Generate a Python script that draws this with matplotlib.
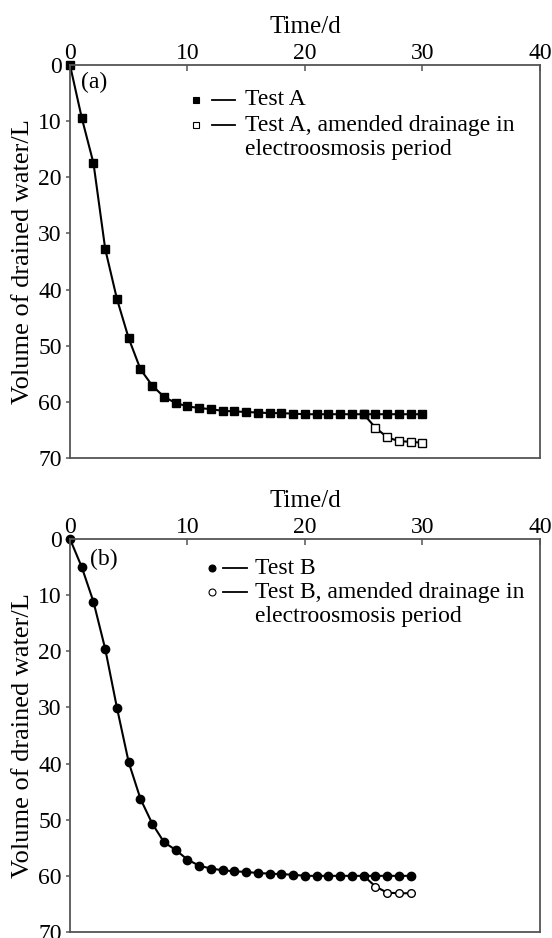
import matplotlib
matplotlib.use("Agg")
import matplotlib.pyplot as plt

plt.rcParams['font.family'] = ['Liberation Serif', 'DejaVu Serif']

# test A, volume of drained water (L) per day
days_a = list(range(0, 31))
vol_a = [0, 9.4, 17.5, 32.8, 41.7, 48.7, 54.2, 57.1, 59.1, 60.2, 60.8, 61.1, 61.3, 61.6, 61.7,
         61.8, 61.9, 62.0, 62.0, 62.1, 62.2, 62.2, 62.2, 62.2, 62.2, 62.2, 62.2, 62.2, 62.2, 62.2, 62.2]
days_a_amend = [25, 26, 27, 28, 29, 30]
vol_a_amend = [62.2, 64.6, 66.3, 67.0, 67.1, 67.3]

# test B
days_b = list(range(0, 30))
vol_b = [0, 5.0, 11.2, 19.6, 30.1, 39.8, 46.3, 50.7, 54.0, 55.4, 57.1, 58.2, 58.7, 59.0, 59.2,
         59.3, 59.5, 59.6, 59.7, 59.8, 60.0, 60.0, 60.0, 60.0, 60.0, 60.0, 60.0, 60.0, 60.0, 60.0]
days_b_amend = [25, 26, 27, 28, 29]
vol_b_amend = [60.0, 61.9, 63.0, 63.1, 63.1]

xticks = [0, 10, 20, 30, 40]
yticks = [0, 10, 20, 30, 40, 50, 60, 70]

fs = 17
spine_col = '#555555'

fig = plt.figure(figsize=(5.52, 9.38), dpi=100)
ax1 = fig.add_axes([0.1268, 0.5117, 0.8514, 0.419])
ax2 = fig.add_axes([0.1268, 0.0064, 0.8514, 0.419])


def setup(ax):
    ax.set_xlim(0, 40)
    ax.set_ylim(70, 0)
    ax.xaxis.tick_top()
    ax.xaxis.set_label_position('top')
    ax.set_xticks(xticks)
    ax.set_yticks(yticks)
    ax.tick_params(axis='x', direction='in', length=4, width=1.1, pad=1,
                   labelsize=fs, color=spine_col)
    ax.tick_params(axis='y', direction='out', length=3, width=1.1, pad=3,
                   labelsize=fs, color=spine_col)
    ax.set_xlabel('Time/d', fontsize=18, labelpad=7)
    ax.set_ylabel('Volume of drained water/L', fontsize=19, labelpad=3)
    for s in ax.spines.values():
        s.set_color(spine_col)
        s.set_linewidth(1.3)


def legend_row(ax, xm, xl0, xl1, xt, y, marker, fill, lines):
    ax.plot([xm], [y], marker=marker, ms=5, mfc=fill, mec='black', mew=0.8,
            transform=ax.transAxes, clip_on=False)
    ax.plot([xl0, xl1], [y, y], color='black', lw=1.3, transform=ax.transAxes)
    for i, t in enumerate(lines):
        ax.text(xt, y - i * 0.062, t, transform=ax.transAxes, fontsize=fs,
                va='center', ha='left')


# panel (a)
setup(ax1)
ax1.plot(days_a_amend, vol_a_amend, '-s', color='black', lw=1.5, ms=5.5,
         mfc='white', mec='black', mew=1.0, clip_on=False)
ax1.plot(days_a, vol_a, '-s', color='black', lw=1.5, ms=6, mfc='black', mec='black',
         clip_on=False)
ax1.text(0.051, 0.955, '(a)', transform=ax1.transAxes, fontsize=fs, va='center', ha='center')
legend_row(ax1, 0.268, 0.302, 0.351, 0.372, 0.911, 's', 'black', ['Test A'])
legend_row(ax1, 0.268, 0.302, 0.351, 0.372, 0.847, 's', 'white',
           ['Test A, amended drainage in', 'electroosmosis period'])

# panel (b)
setup(ax2)
ax2.plot(days_b_amend, vol_b_amend, '-o', color='black', lw=1.5, ms=5.5,
         mfc='white', mec='black', mew=1.0, clip_on=False)
ax2.plot(days_b, vol_b, '-o', color='black', lw=1.5, ms=6, mfc='black', mec='black',
         clip_on=False)
ax2.text(0.072, 0.947, '(b)', transform=ax2.transAxes, fontsize=fs, va='center', ha='center')
legend_row(ax2, 0.302, 0.326, 0.377, 0.394, 0.926, 'o', 'black', ['Test B'])
legend_row(ax2, 0.302, 0.326, 0.377, 0.394, 0.865, 'o', 'white',
           ['Test B, amended drainage in', 'electroosmosis period'])

fig.savefig('out.png', dpi=100)
